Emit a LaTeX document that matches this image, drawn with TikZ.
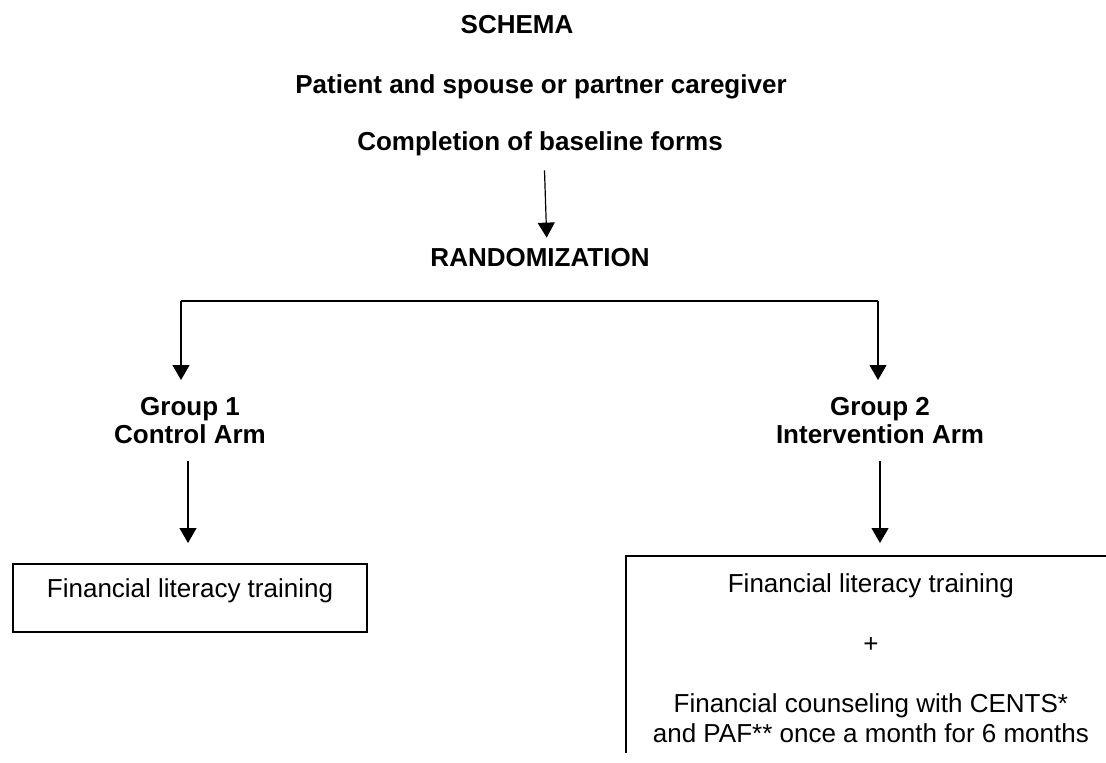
\documentclass[tikz,border=0pt]{standalone}
\usepackage{fontspec}
\setmainfont{Liberation Sans}
\usetikzlibrary{arrows.meta, positioning}

\tikzset{
  px/.style={x=0.5pt, y=-0.5pt},
  titel/.style={font=\fontsize{13}{15}\selectfont\bfseries, inner sep=0pt,
                text height=9.5pt, text depth=2.7pt, anchor=base},
  gruppe/.style={font=\fontsize{13}{14}\selectfont\bfseries, align=center,
                 inner xsep=0pt, inner ysep=8.5pt, anchor=north},
  kasten/.style={draw, line width=0.9pt, font=\fontsize{13}{15}\selectfont},
  linie/.style={line width=0.6pt},
  pfeil/.style={-{Triangle[width=8.5pt, length=7.5pt]}, line width=0.6pt}
}

\begin{document}
\begin{tikzpicture}[px]
  \useasboundingbox (0,0) rectangle (1106,762);

  % Kopf
  \node[titel] (schema) at (517,33) {SCHEMA};
  \node[titel] (patient) at (541,93) {Patient and spouse or partner caregiver};
  \node[titel] (baseline) at (540,150) {Completion of baseline forms};
  \node[titel] (rand) at (540,266) {RANDOMIZATION};

  \draw[pfeil, shorten <=7.3pt, shorten >=4.5pt]
    ([xshift=2pt]baseline.south) -- ([xshift=3.5pt]rand.north);

  % Verzweigung
  \coordinate (gabelL) at (181,301);
  \coordinate (gabelR) at (878,301);

  \node[gruppe] (grp1) at (190,380) {Group 1\\Control Arm};
  \node[gruppe] (grp2) at (880,380) {Group 2\\Intervention Arm};

  \draw[linie] (gabelL) -- (gabelR);
  \draw[pfeil] (gabelL) -- (gabelL |- grp1.north);
  \draw[pfeil] (gabelR) -- (gabelR |- grp2.north);

  % Arme
  \node[kasten, anchor=north, minimum width=177pt, inner ysep=0pt,
        text height=17pt, text depth=17pt] (ctrl) at (190,563)
    {Financial literacy training};

  \begin{scope}
    \clip (0,0) rectangle (1106,752);
    \node[kasten, anchor=north west, minimum width=245pt, inner ysep=9pt,
          align=center] (intv) at (625,555)
      {Financial literacy training\\[15pt]+\\[15pt]Financial counseling with CENTS*\\
       and PAF** once a month for 6 months};
  \end{scope}

  \draw[pfeil, shorten >=10pt] ([xshift=-1pt]grp1.south) -- ([xshift=-1pt]grp1.south |- ctrl.north);
  \draw[pfeil, shorten >=6pt] (grp2.south) -- (grp2.south |- intv.north);
\end{tikzpicture}
\end{document}
